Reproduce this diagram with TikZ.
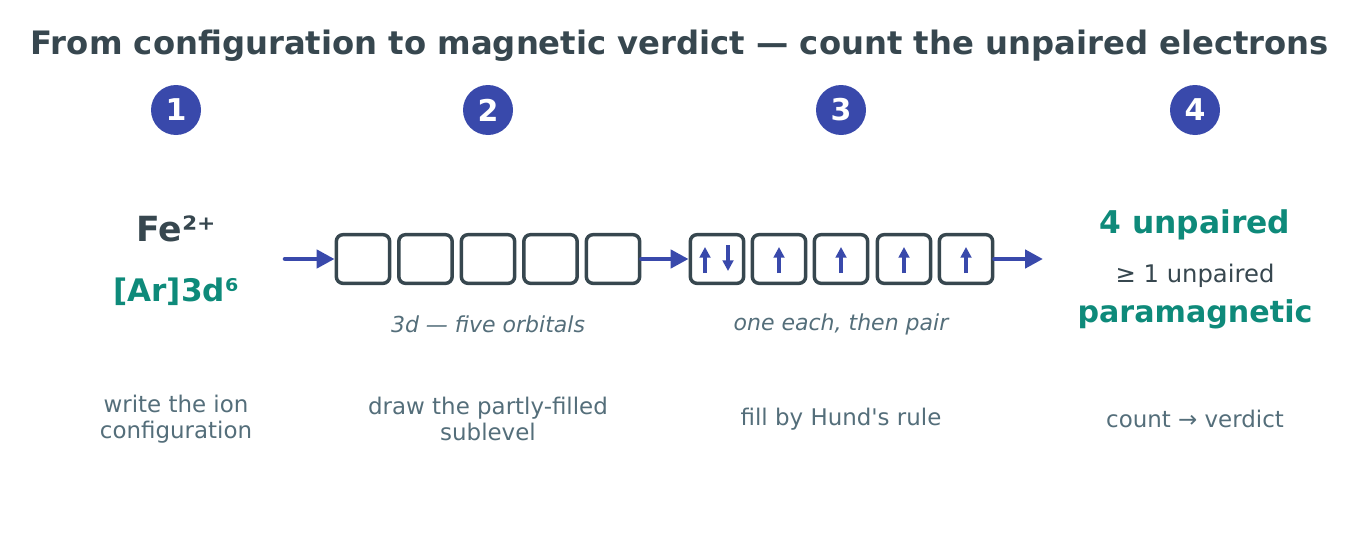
\documentclass[tikz,border=0pt]{standalone}
\usepackage{fontspec}
\setmainfont{DejaVu Sans}[Ligatures=TeXOff]
\usetikzlibrary{arrows.meta}
\definecolor{ink}{HTML}{37474F}
\definecolor{muted}{HTML}{546E7A}
\definecolor{indigo}{HTML}{3949AB}
\definecolor{teal}{HTML}{0E8A7A}
\newcommand{\fs}[2]{\fontsize{#1pt}{#2pt}\selectfont}
\tikzset{
  px/.style={x=0.75pt,y=-0.75pt},
  badge/.style={circle,fill=indigo,minimum size=37.5pt,inner sep=0pt,text=white,font=\fs{22.5}{27}\bfseries},
  orb/.style={draw=ink,line width=2.6pt,rounded corners=5pt,minimum width=40pt,minimum height=36.5pt,inner sep=0pt,fill=white},
  flow/.style={draw=indigo,line width=3.4pt,line cap=round,-{Triangle[length=13.5pt,width=13.5pt]}},
  spin/.style={draw=indigo,line width=2.5pt,-{Triangle[length=8pt,width=8pt]}},
  captext/.style={text=muted,font=\fs{17.2}{19.5},align=center},
  subtext/.style={text=muted,font=\fs{16.5}{19}\itshape},
}
\begin{document}
\begin{tikzpicture}[px]
\useasboundingbox (0,0) rectangle (1360,539);
\node[text=ink,font=\fs{24.2}{29}\bfseries] (title) at (680,46) {From configuration to magnetic verdict — count the unpaired electrons};
\node[badge] (b1) at (176,110) {1};
\node[badge] (b2) at (488,110) {2};
\node[badge] (b3) at (841,110) {3};
\node[badge] (b4) at (1195,110) {4};
% step 1
\node[text=ink,font=\fs{26}{31}\bfseries] (fe) at (176,229) {Fe²⁺};
\node[text=teal,font=\fs{23.3}{28}\bfseries] (ar) at (176,292) {[Ar]3d⁶};
\coordinate (s0) at (285,259);
% step 2 empty boxes
\foreach \i/\x in {1/363,2/425.5,3/488,4/550.5,5/613}{
  \node[orb] (e\i) at (\x,259) {};
}
% step 3 filled boxes
\foreach \i/\x in {1/717,2/779,3/841,4/904,5/966}{
  \node[orb] (f\i) at (\x,259) {};
}
\coordinate (s3) at (1043,259);
\draw[flow] (s0) -- (e1.west);
\draw[flow] (e5.east) -- (f1.west);
\draw[flow] (f5.east) -- (s3);
% spins
\draw[spin] (705,273) -- (705,247);
\draw[spin] (728,245) -- (728,271);
\foreach \i in {2,3,4,5}{
  \draw[spin] ([yshift=-10.5pt]f\i.center) -- ([yshift=9pt]f\i.center);
}
\node[subtext] (l2) at (488,324) {3d — five orbitals};
\node[subtext] (l3) at (841,324) {one each, then pair};
% step 4
\node[text=teal,font=\fs{23.5}{28}\bfseries] (n4) at (1195,225) {4 unpaired};
\node[text=ink,font=\fs{18.2}{22}] (ge) at (1195,276) {≥ 1 unpaired};
\node[text=teal,font=\fs{22.6}{27}\bfseries] (pm) at (1195,314) {paramagnetic};
% captions
\node[captext] (c1) at (176,419) {write the ion\\configuration};
\node[captext] (c2) at (488,419) {draw the partly-filled\\sublevel};
\node[captext] (c3) at (841,419) {fill by Hund's rule};
\node[captext] (c4) at (1195,419) {count → verdict};
\end{tikzpicture}
\end{document}
